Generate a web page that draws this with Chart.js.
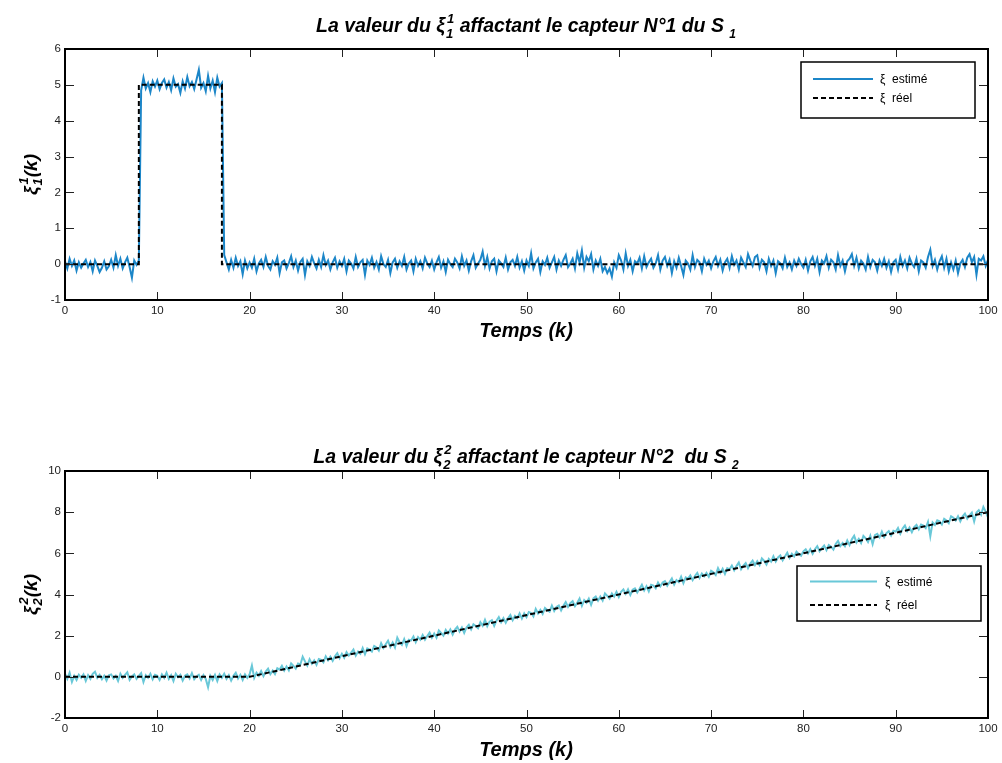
<!DOCTYPE html>
<html>
<head>
<meta charset="utf-8">
<script src="https://cdn.jsdelivr.net/npm/chart.js@4/dist/chart.umd.min.js"></script>
<style>
  html, body { margin: 0; padding: 0; background: #fff; }
  body { width: 1002px; height: 763px; position: relative; overflow: hidden; }
  canvas { position: absolute; left: 0; }
  #chartTop { top: 0; }
  #chartBottom { top: 381px; }
</style>
</head>
<body>
<canvas id="chartTop" width="1002" height="381"></canvas>
<canvas id="chartBottom" width="1002" height="382"></canvas>
<script>
// sample step of the time axis (k)
const dt = 0.25;

// subplot 1 : estimated xi (blue), one value every 0.25 k
const est1 = [
  0.08, -0.12, 0.15, -0.05, 0.1, -0.18, 0.05, -0.1, 0.02, 0.12, -0.08, 0.06, -0.2, 0.1, -0.05, -0.22, -0.1, 0.08, -0.15, -0.06,
  0.12, -0.1, 0.25, -0.05, 0.15, -0.12, 0.05, 0.18, -0.08, -0.38, 0.1, -0.02, 0.1, 4.85, 5.2, 4.9, 5.05, 4.8, 5.1, 4.95,
  5.12, 4.88, 5.05, 5.15, 4.92, 5.08, 4.85, 5.18, 4.95, 5.02, 4.78, 5.1, 4.9, 5.22, 4.96, 5.08, 4.88, 5.15, 5.42, 4.92,
  5.05, 4.82, 5.25, 4.9, 5.12, 4.8, 5.2, 4.95, 5.05, 0.25, 0.05, -0.15, 0.12, -0.1, 0.18, -0.05, 0.08, -0.28, 0.1, -0.12,
  0.05, -0.1, 0.15, -0.2, 0.02, 0.12, -0.08, 0.2, -0.05, -0.15, 0.08, -0.02, 0.18, -0.25, 0.05, 0.1, -0.12, 0.03, 0.22, -0.08,
  0.1, -0.18, 0.06, 0.15, -0.3, 0.08, -0.05, 0.2, 0.02, -0.12, 0.12, -0.08, 0.25, -0.02, 0.1, -0.15, 0.05, 0.18, -0.1, 0.08,
  -0.05, 0.15, -0.2, 0.1, 0.02, -0.12, 0.2, -0.08, 0.05, 0.12, -0.3, 0.1, -0.02, 0.18, -0.1, 0.06, -0.15, 0.22, 0.0, -0.08,
  0.12, -0.25, 0.05, 0.15, -0.1, 0.08, -0.05, 0.2, -0.15, 0.02, 0.1, -0.2, 0.15, -0.05, 0.08, -0.12, 0.18, 0.02, -0.08, 0.1,
  -0.15, 0.05, 0.2, -0.1, 0.08, -0.22, 0.12, 0.0, -0.08, 0.15, 0.05, -0.12, 0.22, -0.05, 0.1, -0.18, 0.08, 0.25, -0.1, 0.02,
  0.12, 0.35, -0.05, 0.2, -0.12, 0.08, 0.15, -0.2, 0.1, 0.02, -0.08, 0.18, -0.15, 0.05, 0.12, -0.05, 0.2, -0.1, 0.08, -0.18,
  0.1, -0.05, 0.3, -0.12, 0.05, 0.15, -0.22, 0.08, -0.02, 0.18, -0.1, 0.05, 0.2, -0.15, 0.1, -0.05, 0.12, 0.25, -0.08, 0.02,
  0.15, -0.12, 0.3, 0.05, 0.38, -0.1, 0.2, 0.08, 0.28, -0.15, 0.1, -0.05, 0.15, -0.2, -0.08, -0.25, -0.12, -0.35, 0.05, -0.1,
  0.25, 0.1, -0.15, 0.3, -0.05, 0.12, -0.2, 0.08, 0.02, 0.18, -0.12, 0.22, -0.08, 0.05, 0.15, -0.1, 0.02, 0.25, -0.15, 0.1,
  0.2, -0.05, 0.12, -0.25, 0.08, -0.1, 0.18, -0.05, -0.3, 0.1, 0.02, -0.15, 0.25, -0.08, 0.12, 0.05, -0.2, 0.15, -0.02, 0.1,
  -0.12, 0.08, 0.2, -0.05, 0.12, -0.18, 0.05, 0.15, -0.1, 0.22, -0.02, 0.1, -0.15, 0.18, 0.05, -0.08, 0.28, 0.1, -0.05, 0.2,
  0.25, -0.1, 0.12, 0.05, -0.2, 0.15, -0.05, 0.1, -0.25, 0.08, 0.02, -0.12, 0.18, -0.08, 0.05, -0.15, 0.1, -0.05, 0.15, 0.0,
  -0.1, 0.12, -0.18, 0.08, 0.2, -0.05, 0.15, -0.22, 0.1, 0.02, 0.22, -0.1, 0.12, 0.05, -0.15, 0.25, -0.05, 0.1, -0.2, 0.08,
  0.15, 0.28, -0.05, 0.18, -0.12, 0.1, 0.02, -0.15, 0.2, -0.08, 0.12, 0.05, -0.18, 0.1, -0.05, 0.15, -0.1, 0.08, -0.22, 0.05,
  0.12, -0.15, 0.2, -0.05, 0.1, -0.12, 0.18, 0.02, -0.08, 0.15, -0.2, 0.1, 0.05, -0.1, 0.2, 0.4, -0.05, 0.12, -0.15, 0.08,
  0.22, -0.1, 0.15, -0.2, 0.05, -0.15, 0.1, -0.25, 0.02, 0.12, -0.08, 0.18, 0.28, 0.05, 0.2, -0.3, 0.15, 0.1, 0.22, -0.05,
  0.12
];
// subplot 1 : real xi (corners of the step)
const real1X = [0, 8, 8, 17, 17, 100];
const real1Y = [0, 0, 5, 5, 0, 0];

// subplot 2 : estimated xi (cyan), one value every 0.25 k
const est2 = [
  0.15, -0.1, 0.2, -0.25, 0.05, -0.15, 0.1, -0.05, 0.12, -0.2, 0.08, -0.1, 0.15, 0.25, -0.05, 0.1, -0.12, 0.05, -0.18, 0.08,
  0.12, -0.08, 0.05, -0.2, 0.15, -0.05, 0.1, 0.22, -0.15, 0.02, 0.12, -0.1, 0.05, 0.18, -0.25, 0.08, -0.05, 0.15, -0.12, 0.1,
  0.05, -0.15, 0.12, -0.05, 0.2, -0.1, 0.08, -0.2, 0.15, -0.02, 0.1, -0.18, 0.05, 0.12, -0.08, 0.18, -0.12, 0.02, 0.1, -0.15,
  0.08, -0.1, -0.5, 0.05, -0.15, 0.1, -0.2, 0.12, -0.05, 0.15, -0.1, 0.08, -0.18, 0.05, 0.2, -0.08, 0.1, -0.15, 0.12, -0.05,
  0.12, 0.55, -0.05, 0.2, 0.05, 0.28, 0.03, 0.26, 0.4, 0.13, 0.3, 0.13, 0.42, 0.35, 0.53, 0.3, 0.5, 0.31, 0.65, 0.53,
  0.4, 0.65, 0.6, 0.98, 0.75, 0.55, 0.85, 0.63, 0.8, 0.58, 0.87, 0.83, 0.7, 1.0, 0.8, 0.98, 0.78, 1.0, 1.15, 0.9,
  1.12, 0.93, 1.2, 1.03, 1.18, 1.33, 1.03, 1.23, 1.12, 1.4, 1.1, 1.38, 1.32, 1.23, 1.5, 1.43, 1.28, 1.63, 1.4, 1.58,
  1.75, 1.45, 1.67, 1.43, 1.9, 1.68, 1.55, 1.83, 1.5, 1.8, 1.77, 1.96, 1.68, 1.93, 1.8, 2.03, 1.8, 1.98, 2.15, 1.9,
  2.1, 1.9, 2.25, 2.13, 2.0, 2.28, 2.1, 2.3, 2.05, 2.3, 2.43, 2.2, 2.4, 2.13, 2.4, 2.53, 2.3, 2.55, 2.47, 2.36,
  2.65, 2.48, 2.77, 2.46, 2.68, 2.75, 2.47, 2.73, 2.9, 2.65, 2.85, 2.63, 2.85, 3.0, 2.75, 2.96, 2.85, 3.08, 2.83, 3.08,
  2.9, 3.15, 3.1, 2.93, 3.3, 3.08, 3.25, 3.06, 3.35, 3.25, 3.17, 3.46, 3.2, 3.4, 3.47, 3.23, 3.45, 3.63, 3.4, 3.58,
  3.68, 3.43, 3.6, 3.8, 3.45, 3.73, 3.6, 3.8, 3.5, 3.81, 3.9, 3.7, 3.9, 3.71, 4.05, 3.93, 3.8, 4.05, 3.9, 4.13,
  3.88, 4.13, 4.25, 4.03, 4.25, 3.98, 4.23, 4.3, 4.1, 4.28, 4.47, 4.2, 4.4, 4.15, 4.47, 4.43, 4.3, 4.58, 4.4, 4.58,
  4.65, 4.43, 4.6, 4.78, 4.48, 4.7, 4.6, 4.86, 4.55, 4.83, 4.77, 4.93, 4.7, 4.9, 5.05, 4.8, 5.02, 4.88, 5.05, 4.86,
  5.15, 5.08, 4.95, 5.28, 5.05, 5.25, 5.0, 5.28, 5.22, 5.4, 5.17, 5.38, 5.55, 5.23, 5.4, 5.53, 5.28, 5.5, 5.65, 5.43,
  5.62, 5.43, 5.75, 5.63, 5.45, 5.73, 5.6, 5.86, 5.6, 5.8, 5.9, 5.66, 5.85, 6.03, 5.77, 5.98, 5.85, 6.08, 5.97, 5.88,
  6.1, 6.2, 6.0, 6.2, 5.98, 6.2, 6.35, 6.1, 6.25, 6.38, 6.15, 6.4, 6.32, 6.18, 6.45, 6.6, 6.35, 6.5, 6.35, 6.63,
  6.4, 6.68, 6.85, 6.53, 6.7, 6.5, 6.85, 6.73, 6.55, 6.85, 6.45, 6.88, 6.95, 6.78, 7.05, 6.78, 6.98, 7.08, 6.87, 7.1,
  7.05, 7.23, 6.95, 7.2, 7.35, 7.08, 7.25, 7.03, 7.28, 7.38, 7.17, 7.4, 7.35, 7.23, 7.53, 6.83, 7.5, 7.38, 7.6, 7.55,
  7.4, 7.68, 7.6, 7.46, 7.8, 7.73, 7.6, 7.8, 7.55, 7.8, 7.93, 7.68, 7.85, 7.98, 7.55, 7.98, 8.1, 7.88, 8.25, 8.03,
  7.75
];
// subplot 2 : real xi (corners of the ramp)
const real2X = [0, 20, 100];
const real2Y = [0, 0, 8];

// axis ranges / tick steps
const xRange = [0, 100, 10];
const y1Range = [-1, 6, 1];
const y2Range = [-2, 10, 2];

const time = est1.map((_, i) => i * dt);

const FONT = "'Liberation Sans', Arial, Helvetica, sans-serif";

function toPoints(xs, ys) {
  return xs.map((x, i) => ({ x: x, y: ys[i] }));
}

// draws a line of bold italic text with optional stacked sup/sub pieces
function richWidth(ctx, parts) {
  let w = 0;
  parts.forEach(p => {
    ctx.font = 'italic bold ' + p.size + 'px ' + FONT;
    if (p.sup !== undefined) {
      w += Math.max(ctx.measureText(p.sup).width, ctx.measureText(p.sub).width) + 2;
    } else {
      w += ctx.measureText(p.text).width;
    }
  });
  return w;
}

function drawRich(ctx, parts, cx, base) {
  let x = cx - richWidth(ctx, parts) / 2;
  ctx.textAlign = 'left';
  ctx.textBaseline = 'alphabetic';
  ctx.fillStyle = '#000';
  parts.forEach(p => {
    ctx.font = 'italic bold ' + p.size + 'px ' + FONT;
    if (p.sup !== undefined) {
      ctx.fillText(p.sup, x + 2, base - p.up);
      ctx.fillText(p.sub, x + 1, base + p.down);
      x += Math.max(ctx.measureText(p.sup).width, ctx.measureText(p.sub).width) + 2;
    } else {
      ctx.fillText(p.text, x, base + (p.dy || 0));
      x += ctx.measureText(p.text).width;
    }
  });
}

// matlab like decorations: box, inner ticks, legend box, title and axis labels
const matlabAxes = {
  id: 'matlabAxes',
  afterDraw(chart, args, opts) {
    const ctx = chart.ctx;
    const a = chart.chartArea;
    const xs = chart.scales.x;
    const ys = chart.scales.y;
    ctx.save();

    // inner ticks
    ctx.strokeStyle = '#222';
    ctx.lineWidth = 1;
    ctx.beginPath();
    xs.ticks.forEach(t => {
      const px = Math.round(xs.getPixelForValue(t.value)) + 0.5;
      ctx.moveTo(px, a.bottom); ctx.lineTo(px, a.bottom - 8);
      ctx.moveTo(px, a.top); ctx.lineTo(px, a.top + 8);
    });
    ys.ticks.forEach(t => {
      const py = Math.round(ys.getPixelForValue(t.value)) + 0.5;
      ctx.moveTo(a.left, py); ctx.lineTo(a.left + 9, py);
      ctx.moveTo(a.right, py); ctx.lineTo(a.right - 9, py);
    });
    ctx.stroke();

    // box
    ctx.strokeStyle = '#000';
    ctx.lineWidth = 2;
    ctx.strokeRect(a.left, a.top, a.right - a.left, a.bottom - a.top);

    // legend
    const lg = opts.legend;
    ctx.fillStyle = '#fff';
    ctx.fillRect(lg.x, lg.y, lg.w, lg.h);
    ctx.lineWidth = 1.5;
    ctx.strokeStyle = '#000';
    ctx.strokeRect(lg.x, lg.y, lg.w, lg.h);
    chart.data.datasets.slice().sort((d1, d2) => d2.order - d1.order).forEach((ds, i) => {
      const y = lg.rows[i];
      ctx.beginPath();
      ctx.strokeStyle = ds.borderColor;
      ctx.lineWidth = 2;
      ctx.setLineDash(ds.borderDash || []);
      ctx.moveTo(lg.x1, y); ctx.lineTo(lg.x2, y);
      ctx.stroke();
      ctx.setLineDash([]);
      ctx.fillStyle = '#000';
      ctx.font = '12px ' + FONT;
      ctx.textAlign = 'left';
      ctx.textBaseline = 'middle';
      ctx.fillText(ds.label, lg.tx, y + 1);
    });

    // title
    drawRich(ctx, opts.title, opts.titleX, opts.titleY);
    // x label
    drawRich(ctx, [{ text: 'Temps (k)', size: 20 }], opts.titleX, opts.xLabelY);
    // y label, rotated
    ctx.save();
    ctx.translate(opts.yLabelX, (a.top + a.bottom) / 2);
    ctx.rotate(-Math.PI / 2);
    drawRich(ctx, opts.yLabel, 0, 0);
    ctx.restore();

    ctx.restore();
  }
};

function makeChart(id, estData, estColor, realX, realY, yRange, layout, deco) {
  return new Chart(document.getElementById(id), {
    type: 'line',
    data: {
      datasets: [
        {
          label: 'ξ  estimé',
          data: toPoints(time, estData),
          borderColor: estColor,
          borderWidth: 2,
          order: 1
        },
        {
          label: 'ξ  réel',
          data: toPoints(realX, realY),
          borderColor: '#000',
          borderWidth: 2,
          borderDash: [5, 3],
          order: 0
        }
      ]
    },
    options: {
      responsive: false,
      animation: false,
      devicePixelRatio: 1,
      layout: { padding: layout.padding },
      elements: { point: { radius: 0 }, line: { tension: 0 } },
      plugins: {
        legend: { display: false },
        tooltip: { enabled: false },
        matlabAxes: deco
      },
      scales: {
        x: {
          type: 'linear',
          min: xRange[0],
          max: xRange[1],
          ticks: { stepSize: xRange[2], color: '#222', font: { family: FONT, size: 11.5 }, padding: 4, maxRotation: 0 },
          grid: { display: false, drawTicks: false },
          border: { display: false },
          afterFit: s => { s.height = layout.xHeight; }
        },
        y: {
          min: yRange[0],
          max: yRange[1],
          ticks: { stepSize: yRange[2], color: '#222', font: { family: FONT, size: 11.5 }, padding: 4 },
          grid: { display: false, drawTicks: false },
          border: { display: false },
          afterFit: s => { s.width = 65; }
        }
      }
    },
    plugins: [matlabAxes]
  });
}

makeChart('chartTop', est1, '#1c86c8', real1X, real1Y, y1Range,
  { padding: { left: 0, top: 49, right: 14, bottom: 0 }, xHeight: 81 },
  {
    legend: { x: 801, y: 62, w: 174, h: 56, x1: 813, x2: 873, tx: 880, rows: [79, 98] },
    title: [
      { text: 'La valeur du ξ', size: 19.5 },
      { sup: '1', sub: '1', size: 13, up: 9, down: 6 },
      { text: ' affactant le capteur N°1 du S ', size: 19.5 },
      { text: '1', size: 12, dy: 6 }
    ],
    titleX: 526, titleY: 32, xLabelY: 337, yLabelX: 37,
    yLabel: [
      { text: 'ξ', size: 19 },
      { sup: '1', sub: '1', size: 13, up: 9, down: 5 },
      { text: '(k)', size: 19 }
    ]
  });

makeChart('chartBottom', est2, '#69c8d8', real2X, real2Y, y2Range,
  { padding: { left: 0, top: 90, right: 14, bottom: 0 }, xHeight: 45 },
  {
    legend: { x: 797, y: 185, w: 184, h: 55, x1: 810, x2: 877, tx: 885, rows: [200.5, 224] },
    title: [
      { text: 'La valeur du ξ', size: 19.5 },
      { sup: '2', sub: '2', size: 13, up: 9, down: 6 },
      { text: ' affactant le capteur N°2  du S ', size: 19.5 },
      { text: '2', size: 12, dy: 6 }
    ],
    titleX: 526, titleY: 82, xLabelY: 375, yLabelX: 37,
    yLabel: [
      { text: 'ξ', size: 19 },
      { sup: '2', sub: '2', size: 13, up: 9, down: 5 },
      { text: '(k)', size: 19 }
    ]
  });
</script>
</body>
</html>
